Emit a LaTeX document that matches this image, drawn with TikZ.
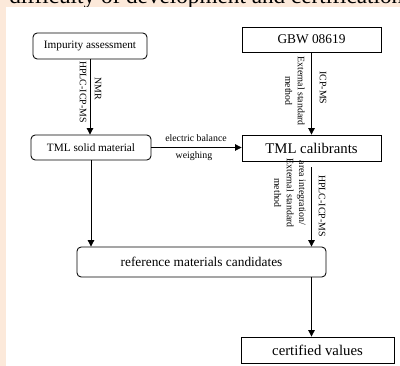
\documentclass[tikz,border=0pt]{standalone}
\usepackage{fontspec}
\setmainfont{Liberation Serif}
\usetikzlibrary{arrows.meta}
\definecolor{peach}{RGB}{252,233,218}

\tikzset{
  rbox/.style={draw, rounded corners=3pt, line width=0.6pt, inner sep=0pt, font=\fontsize{8}{9}\selectfont},
  sbox/.style={draw, line width=0.6pt, inner sep=0pt},
  arr/.style={-{Triangle[length=4.5pt,width=4.5pt]}, line width=0.6pt},
  lab/.style={font=\fontsize{7}{8.8}\selectfont, inner sep=0pt, align=center},
}

\begin{document}
\begin{tikzpicture}[x=0.025cm,y=-0.025cm]
        \useasboundingbox (0,0) rectangle (400,366);
        
        % page background and cut-off heading
        \fill[peach] (0,0) rectangle (400,366);
        \fill[white] (6,7) rectangle (400,366);
        \begin{scope}
        \clip (0,0) rectangle (400,7);
        \node[anchor=base west, inner sep=0pt, font=\fontsize{16.5}{18}\selectfont] (title) at (9,3.5) {difficulty of development and certification};
        \end{scope}
        
        % boxes
        \node[rbox, minimum width=2.85cm, minimum height=0.65cm] (imp) at (90,46) {Impurity assessment};
        \node[sbox, minimum width=3.475cm, minimum height=0.625cm, font=\fontsize{9.5}{11}\selectfont] (gbw) at (311.5,39.5) {GBW 08619};
        \node[rbox, minimum width=3cm, minimum height=0.625cm] (solid) at (91,147.5) {TML solid material};
        \node[sbox, minimum width=3.475cm, minimum height=0.65cm, font=\fontsize{10.5}{12}\selectfont] (calib) at (311.5,148) {TML calibrants};
        \node[rbox, minimum width=6.225cm, minimum height=0.75cm, font=\fontsize{9.5}{11}\selectfont] (ref) at (201.5,262) {reference materials candidates};
        \node[sbox, minimum width=3.825cm, minimum height=0.65cm, font=\fontsize{10.5}{12}\selectfont] (cert) at (317.5,350) {certified values};
        
        % arrows
        \draw[arr] (imp.south) -- (imp.south |- solid.north);
        \draw[arr] (gbw) -- (calib);
        \draw[arr] (solid.east) -- (solid.east -| calib.west);
        \draw[arr, shorten <=0.15cm] (calib.south) -- (calib.south |- ref.north);
        \draw[arr] (solid.south) -- (solid.south |- ref.north);
        \draw[arr] (calib.south |- ref.south) -- (calib.south |- cert.north);
        
        % labels
        \node[lab, rotate=-90] (nmr) at (98,89) {NMR};
        \node[lab, rotate=-90] (hplc1) at (83,92) {HPLC-ICP-MS};
        \node[lab, rotate=-90] (ext1) at (295,91) {External standard\\method};
        \node[lab, rotate=-90] (icp) at (323,88) {ICP-MS};
        \node[lab] (bal) at (196,138) {electric balance};
        \node[lab] (wei) at (194,156) {weighing};
        \node[lab, rotate=-90] (ext2) at (290,193) {area integration/\\External standard\\method};
        \node[lab, rotate=-90] (hplc2) at (322,206) {HPLC-ICP-MS};
        
        \end{tikzpicture}
\end{document}
